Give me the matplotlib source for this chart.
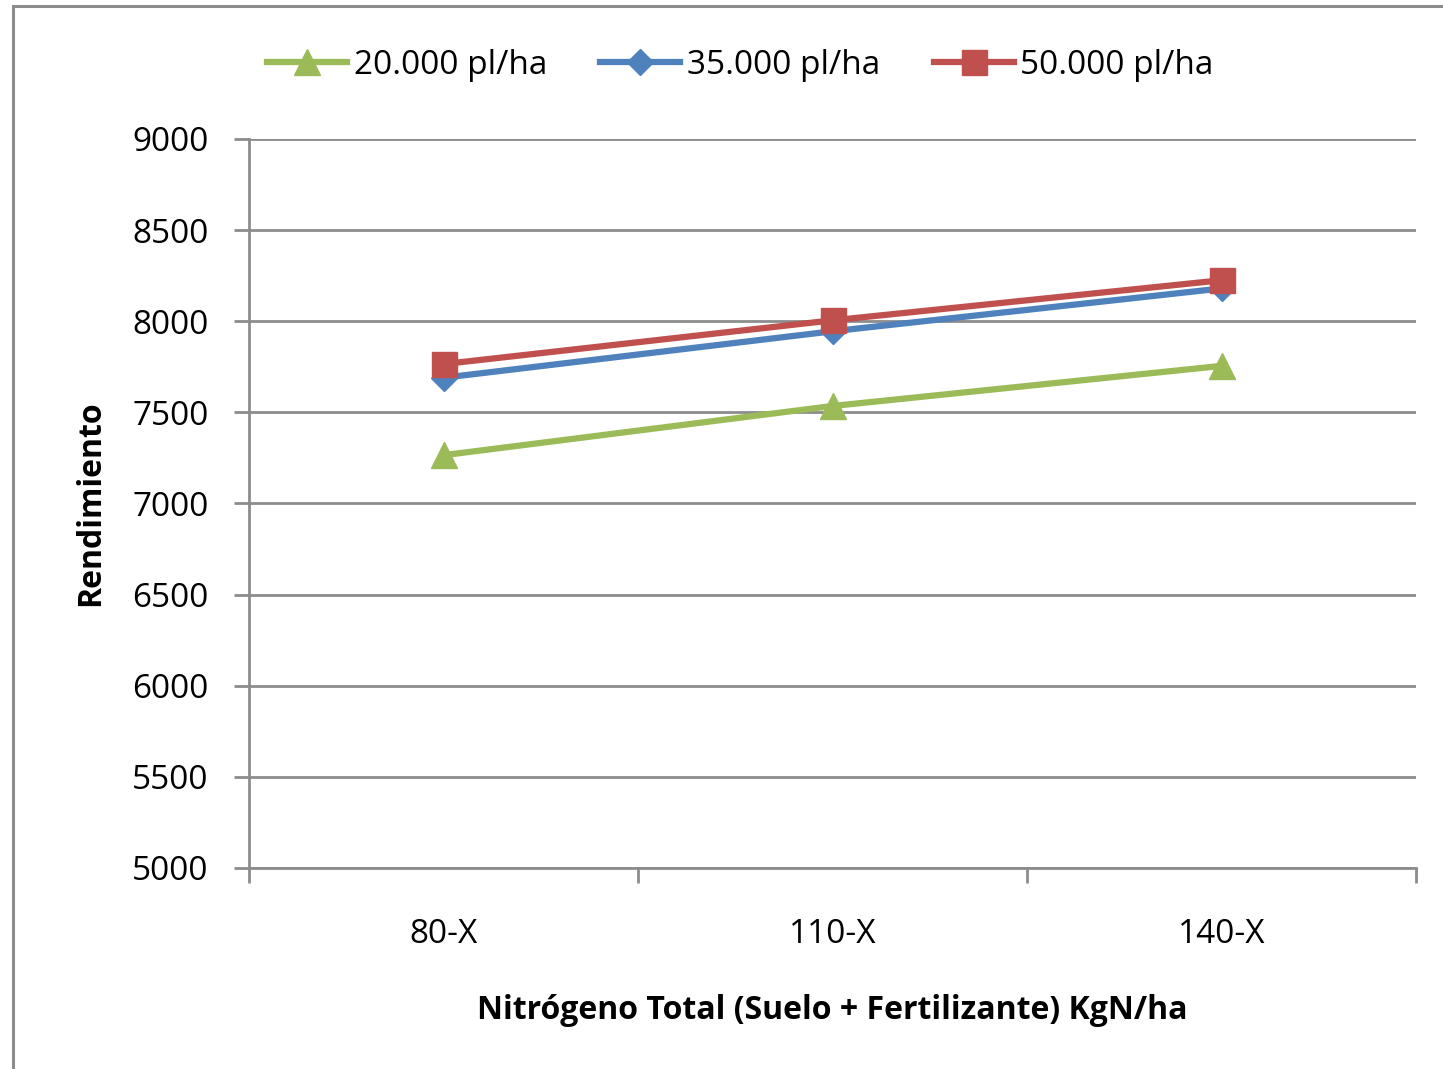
import matplotlib
matplotlib.use("Agg")
from matplotlib import pyplot as plt
from matplotlib.patches import Rectangle

categories = ["80-X", "110-X", "140-X"]
pl_20000 = [7265, 7535, 7755]
pl_35000 = [7690, 7945, 8180]
pl_50000 = [7765, 8005, 8225]

plt.rcParams['font.family'] = ['Open Sans', 'DejaVu Sans']

fig = plt.figure(figsize=(14.43, 10.69), dpi=100)
ax = fig.add_axes([249/1443, 1-868/1069, (1416-249)/1443, (868-139)/1069])

# outer chart border (cropped at right/bottom like the original)
fig.patches.append(Rectangle((13/1443, -0.05), 1.1, 1-6/1069+0.05, transform=fig.transFigure,
                             fill=False, edgecolor="#8c8c8c", linewidth=2.2))

x = range(len(categories))
ax.plot(x, pl_20000, color="#9BBB59", lw=4.5, marker="^", ms=19, label="20.000 pl/ha", zorder=3)
ax.plot(x, pl_35000, color="#4F81BD", lw=4.5, marker="D", ms=13, label="35.000 pl/ha", zorder=4)
ax.plot(x, pl_50000, color="#C0504D", lw=4.5, marker="s", ms=18, label="50.000 pl/ha", zorder=5)

ax.set_xlim(-0.5, 2.5)
ax.set_ylim(5000, 9000)
ax.set_yticks(range(5000, 9001, 500))
ax.set_xticks(list(x))
ax.set_xticklabels(categories)
ax.set_xticks([-0.5, 0.5, 1.5, 2.5], minor=True)
ax.tick_params(axis="x", which="major", length=0, labelsize=24, pad=36)
ax.tick_params(axis="x", which="minor", length=11, width=2, color="#8c8c8c", direction="out")
ax.tick_params(axis="y", length=11, width=2, color="#8c8c8c", labelsize=24, pad=18)

ax.grid(axis="y", color="#8c8c8c", lw=2)
ax.set_axisbelow(True)
for s in ["top", "right"]:
    ax.spines[s].set_visible(False)
for s in ["left", "bottom"]:
    ax.spines[s].set_color("#8c8c8c")
    ax.spines[s].set_linewidth(2)

ax.set_ylabel("Rendimiento", fontsize=23, fontweight="bold", labelpad=18)
ax.set_xlabel("Nitrógeno Total (Suelo + Fertilizante) KgN/ha", fontsize=23, fontweight="bold", labelpad=31)

fig.legend(loc="center", bbox_to_anchor=(0.513, 0.939), ncol=3, frameon=False,
           fontsize=24, handlelength=2.4, columnspacing=1.6, handletextpad=0.2)

fig.savefig("out.png", dpi=100)
